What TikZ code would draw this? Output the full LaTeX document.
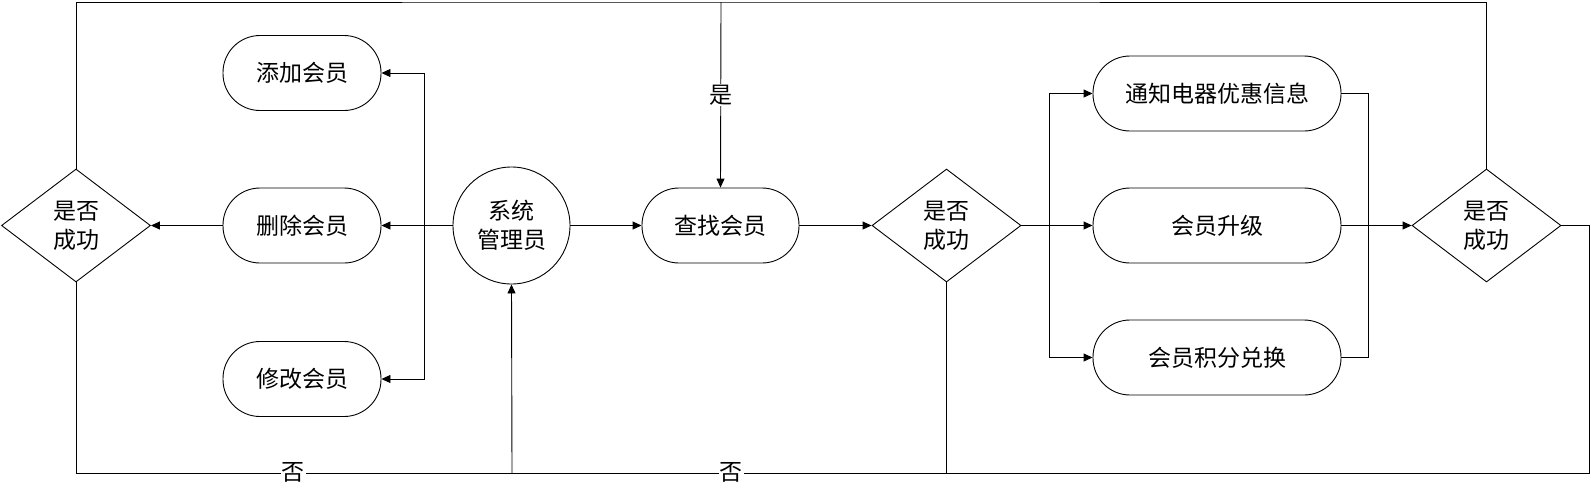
\documentclass[tikz,border=0pt]{standalone}
\usepackage{fontspec}
\newfontfamily\cjk{Noto Sans CJK SC}
\usetikzlibrary{shapes.geometric,arrows.meta}
\begin{document}
\begin{tikzpicture}[x=1pt,y=-1pt,line width=0.9pt,
  every node/.style={font=\cjk\fontsize{23}{29}\selectfont},
  term/.style={draw, rounded corners=37pt, minimum height=75pt, inner sep=0pt},
  dec/.style={draw, diamond, aspect=1.32, minimum width=149pt, minimum height=113pt, inner sep=0pt, align=center},
  actor/.style={draw, circle, minimum size=117pt, inner sep=0pt, align=center},
  arr/.style={-{Triangle[length=9pt,width=8pt]}},
  lbl/.style={fill=white, inner sep=1pt}]
\useasboundingbox (0,0) rectangle (1591,496);
% nodes
\node[dec] (D1) at (76,225.5) {是否\\成功};
\node[term, minimum width=158pt] (A) at (302,73) {添加会员};
\node[term, minimum width=158pt] (B) at (302,225.5) {删除会员};
\node[term, minimum width=158pt] (C) at (302,379) {修改会员};
\node[actor] (S) at (511.5,225.5) {系统\\管理员};
\node[term, minimum width=157pt] (F) at (720.5,225.5) {查找会员};
\node[dec] (D2) at (946.5,225.5) {是否\\成功};
\node[term, minimum width=248pt] (R1) at (1217,93.5) {通知电器优惠信息};
\node[term, minimum width=248pt] (R2) at (1217,225.5) {会员升级};
\node[term, minimum width=248pt] (R3) at (1217,357.5) {会员积分兑换};
\node[dec] (D3) at (1486.5,225.5) {是否\\成功};
% junction coordinates
\coordinate (jl) at (424,225.5);
\coordinate (jr) at (1049,225.5);
\coordinate (jm) at (1368,225.5);
\coordinate (top) at (721,2);
\coordinate (bot) at (512,473);
\coordinate (br) at (1589,473);
% connectors
\draw[arr] (S.west) -- (B.east);
\draw[arr] (jl) |- (A.east);
\draw[arr] (jl) |- (C.east);
\draw[arr] (B.west) -- (D1.east);
\draw[arr] (S.east) -- (F.west);
\draw[arr] (F.east) -- (D2.west);
\draw[arr] (D2.east) -- (R2.west);
\draw[arr] (jr) |- (R1.west);
\draw[arr] (jr) |- (R3.west);
\draw (R1.east) -| (jm);
\draw (R3.east) -| (jm);
\draw[arr] (R2.east) -- (D3.west);
\draw (D1.north) |- (top) -| (D3.north);
\draw[arr] (top) -- (F.north);
\draw (D1.south) |- (bot);
\draw (D3.east) -| (br) -- (bot);
\draw (D2.south) -- (D2.south |- bot);
\draw[arr] (bot) -- (S.south);
% labels
\node[lbl] at (721,95) {是};
\node[lbl] at (293,472) {否};
\node[lbl] at (731,472) {否};
\end{tikzpicture}
\end{document}
